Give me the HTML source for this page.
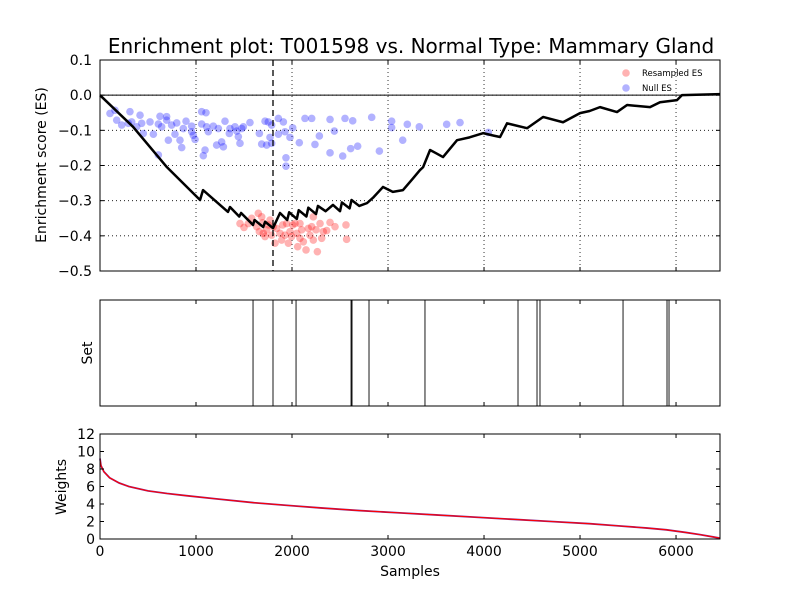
<!DOCTYPE html>
<html><head><meta charset="utf-8"><style>
body{margin:0;background:#fff;}
svg{display:block;font-family:"DejaVu Sans","Liberation Sans",sans-serif;}
</style></head><body>
<svg id="chart" width="800" height="600" xmlns="http://www.w3.org/2000/svg">
<rect width="800" height="600" fill="#fff"/>
<g id="g"></g>
</svg>
<script>
const esSamples=[0,344,698,1042,1073,1333,1354,1450,1470,1594,1610,1700,1720,1802,1875,1950,1970,2050,2070,2150,2170,2250,2270,2350,2427,2500,2520,2600,2620,2700,2781,2850,2948,3050,3156,3250,3333,3365,3438,3500,3573,3719,3850,3990,4100,4167,4240,4448,4615,4823,5000,5100,5208,5385,5490,5729,5833,6010,6062,6458];
const esValues=[0,-0.09,-0.205,-0.298,-0.27,-0.332,-0.318,-0.345,-0.335,-0.369,-0.355,-0.375,-0.36,-0.378,-0.335,-0.355,-0.333,-0.352,-0.327,-0.345,-0.32,-0.338,-0.315,-0.33,-0.312,-0.33,-0.305,-0.322,-0.298,-0.315,-0.307,-0.29,-0.261,-0.275,-0.27,-0.24,-0.213,-0.205,-0.156,-0.165,-0.176,-0.128,-0.12,-0.108,-0.115,-0.119,-0.08,-0.094,-0.062,-0.077,-0.051,-0.045,-0.034,-0.048,-0.028,-0.034,-0.02,-0.014,0,0.003];
const nullX=[156,104,174,226,312,330,295,382,417,434,451,521,556,608,625,608,642,694,694,712,746,781,799,833,851,868,896,955,955,972,990,1059,1059,1104,1094,1076,1111,1128,1180,1215,1233,1267,1285,1302,1347,1354,1406,1424,1441,1458,1476,1493,1562,1660,1684,1719,1736,1753,1771,1788,1788,1858,1858,1910,1927,1937,1937,1979,2007,2076,2135,2205,2239,2285,2396,2396,2441,2528,2552,2611,2632,2684,2830,2910,3038,3038,3153,3201,3326,3611,3750,4045];
const nullY=[-0.043,-0.052,-0.071,-0.085,-0.047,-0.076,-0.08,-0.09,-0.057,-0.08,-0.109,-0.076,-0.111,-0.17,-0.06,-0.082,-0.09,-0.061,-0.071,-0.128,-0.085,-0.111,-0.079,-0.128,-0.149,-0.095,-0.074,-0.088,-0.104,-0.114,-0.126,-0.047,-0.082,-0.05,-0.156,-0.172,-0.09,-0.104,-0.088,-0.142,-0.095,-0.133,-0.147,-0.074,-0.109,-0.095,-0.09,-0.102,-0.118,-0.137,-0.095,-0.09,-0.078,-0.109,-0.139,-0.074,-0.142,-0.076,-0.12,-0.085,-0.137,-0.066,-0.111,-0.076,-0.104,-0.178,-0.202,-0.12,-0.093,-0.135,-0.066,-0.066,-0.14,-0.116,-0.069,-0.164,-0.102,-0.173,-0.066,-0.152,-0.073,-0.145,-0.063,-0.159,-0.074,-0.092,-0.128,-0.083,-0.09,-0.083,-0.078,-0.106];
const resX=[1458,1500,1545,1580,1649,1684,1694,1660,1701,1719,1736,1753,1771,1788,1823,1840,1875,1903,1927,1944,1962,1979,2007,2031,2049,2059,2083,2101,2118,2146,2170,2187,2205,2222,2250,2264,2292,2309,2326,2361,2396,2448,2562,2569,1632,1805,1996,2222,2083,1892];
const resY=[-0.365,-0.376,-0.365,-0.35,-0.336,-0.346,-0.363,-0.388,-0.393,-0.402,-0.383,-0.369,-0.355,-0.398,-0.421,-0.379,-0.393,-0.369,-0.398,-0.365,-0.421,-0.388,-0.369,-0.365,-0.393,-0.431,-0.407,-0.383,-0.417,-0.44,-0.379,-0.398,-0.374,-0.346,-0.383,-0.445,-0.365,-0.407,-0.388,-0.385,-0.362,-0.374,-0.369,-0.41,-0.374,-0.374,-0.402,-0.412,-0.365,-0.412];
const setHits=[1594,1802,2042,2615,2625,2802,3385,4354,4552,4583,5448,5906,5927];
const wSamples=[0,10,40,100,200,300,500,700,900,1200,1600,2000,2300,2700,3100,3500,3900,4300,4700,5100,5400,5700,5900,6100,6250,6380,6458];
const wValues=[9.2,8.4,7.7,7,6.4,6,5.5,5.2,4.95,4.6,4.15,3.8,3.55,3.25,3,2.75,2.5,2.25,2.0,1.75,1.5,1.25,1.05,0.75,0.5,0.25,0.1];
const esTicks=[0.1,0,-0.1,-0.2,-0.3,-0.4,-0.5];
const esTickLabels=["0.1","0.0","\u22120.1","\u22120.2","\u22120.3","\u22120.4","\u22120.5"];
const wTicks=[0,2,4,6,8,10,12];
const xTicks=[0,1000,2000,3000,4000,5000,6000];
const leadingEdge=1802;

const NS="http://www.w3.org/2000/svg";
const G=document.getElementById('g');
function mk(tag,attrs,parent,text){const e=document.createElementNS(NS,tag);for(const k in attrs)e.setAttribute(k,attrs[k]);if(text!==undefined)e.textContent=text;(parent||G).appendChild(e);return e;}
const X0=100,X1=720,XMAX=6458;
const sx=v=>X0+v/XMAX*(X1-X0);
const T={top:60,bot:271,min:-0.5,max:0.1};
const syE=v=>T.top+(T.max-v)/(T.max-T.min)*(T.bot-T.top);
const M={top:300,bot:406};
const B={top:434,bot:539,max:12};
const syW=v=>B.bot-v/B.max*(B.bot-B.top);
const dot="1,3";

for(const t of xTicks){if(t===0)continue;const l=mk('line',{x1:sx(t),x2:sx(t),y1:T.top,y2:T.bot,stroke:'#000','stroke-dasharray':dot,'stroke-width':0.8});}
esTicks.forEach((t,i)=>{const y=syE(t);if(t!==0.1&&t!==-0.5){const l=mk('line',{x1:X0,x2:X1,y1:y,y2:y,stroke:'#000','stroke-dasharray':dot,'stroke-width':0.8});}
 mk('line',{x1:X0,x2:X0+4,y1:y,y2:y,stroke:'#000'});mk('line',{x1:X1,x2:X1-4,y1:y,y2:y,stroke:'#000'});
 const tx=mk('text',{x:X0-8,y:y+5,'font-size':14,'text-anchor':'end'},G,esTickLabels[i]);});
const zl=mk('line',{x1:X0,x2:X1,y1:syE(0),y2:syE(0),stroke:'#000','stroke-width':1});
nullX.forEach((v,i)=>{const c=mk('circle',{cx:sx(v),cy:syE(nullY[i]),r:3.8,fill:'#0000ff','fill-opacity':0.3});});
resX.forEach((v,i)=>{const c=mk('circle',{cx:sx(v),cy:syE(resY[i]),r:3.8,fill:'#ff0000','fill-opacity':0.3});});
const le=mk('line',{x1:sx(leadingEdge),x2:sx(leadingEdge),y1:T.top,y2:T.bot,stroke:'#000','stroke-width':1.3,'stroke-dasharray':'6,4'});
const es=mk('polyline',{points:esSamples.map((s,i)=>sx(s)+','+syE(esValues[i])).join(' '),fill:'none',stroke:'#000','stroke-width':2.5,'stroke-linejoin':'round'});
const f1=mk('rect',{x:X0,y:T.top,width:X1-X0,height:T.bot-T.top,fill:'none',stroke:'#000'});
for(const t of xTicks){[T,M].forEach(p=>{mk('line',{x1:sx(t),x2:sx(t),y1:p.bot,y2:p.bot-4,stroke:'#000'});mk('line',{x1:sx(t),x2:sx(t),y1:p.top,y2:p.top+4,stroke:'#000'});});}
const lg=mk('g',{});
mk('circle',{cx:626,cy:73,r:3.8,fill:'#ff0000','fill-opacity':0.3},lg);
const l1=mk('text',{x:642,y:76,'font-size':8.5},lg,'Resampled ES');
mk('circle',{cx:626,cy:88,r:3.8,fill:'#0000ff','fill-opacity':0.3},lg);
const l2=mk('text',{x:642,y:91,'font-size':8.5},lg,'Null ES');
const ti=mk('text',{x:411,y:53,'font-size':20,'text-anchor':'middle'},G,'Enrichment plot: T001598 vs. Normal Type: Mammary Gland');
const yl=mk('text',{x:0,y:0,'font-size':14,'text-anchor':'middle',transform:'translate(46,165) rotate(-90)'},G,'Enrichment score (ES)');
setHits.forEach(s=>{const l=mk('line',{x1:sx(s),x2:sx(s),y1:M.top,y2:M.bot,stroke:'#000','stroke-width':0.9});});
const f2=mk('rect',{x:X0,y:M.top,width:X1-X0,height:M.bot-M.top,fill:'none',stroke:'#000'});
const sl=mk('text',{x:0,y:0,'font-size':14,'text-anchor':'middle',transform:'translate(92,353) rotate(-90)'},G,'Set');
const wp=wSamples.map((s,i)=>sx(s)+','+syW(wValues[i])).join(' ');
const w1=mk('polyline',{points:wp,fill:'none',stroke:'#7a2a9a','stroke-width':1.8});
const w2=mk('polyline',{points:wp,fill:'none',stroke:'#ff0000','stroke-width':1.1});
const f3=mk('rect',{x:X0,y:B.top,width:X1-X0,height:B.bot-B.top,fill:'none',stroke:'#000'});
wTicks.forEach(t=>{const y=syW(t);mk('line',{x1:X0,x2:X0+4,y1:y,y2:y,stroke:'#000'});mk('line',{x1:X1,x2:X1-4,y1:y,y2:y,stroke:'#000'});
 const tx=mk('text',{x:X0-5,y:y+5,'font-size':14,'text-anchor':'end'},G,String(t));});
xTicks.forEach(t=>{mk('line',{x1:sx(t),x2:sx(t),y1:B.bot,y2:B.bot-4,stroke:'#000'});mk('line',{x1:sx(t),x2:sx(t),y1:B.top,y2:B.top+4,stroke:'#000'});
 const tx=mk('text',{x:sx(t),y:B.bot+17,'font-size':14,'text-anchor':'middle'},G,String(t));});
const wl=mk('text',{x:0,y:0,'font-size':14,'text-anchor':'middle',transform:'translate(66,487) rotate(-90)'},G,'Weights');
const xl=mk('text',{x:410,y:576,'font-size':14,'text-anchor':'middle'},G,'Samples');
</script>
</body></html>
